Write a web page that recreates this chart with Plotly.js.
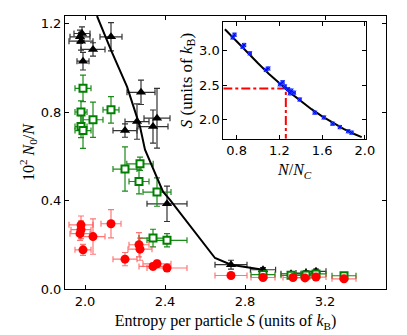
<!DOCTYPE html>
<html><head><meta charset="utf-8">
<script src="https://cdn.plot.ly/plotly-3.0.1.min.js"></script>
<style>html,body{margin:0;padding:0;background:#fff}#plot{width:407px;height:335px}</style>
</head><body><div id="plot"></div>
<script>
// Main plot data: entropy per particle S vs 10^2 N0/N
const blackS   = [1.975, 1.985, 1.98, 2.04, 1.99, 2.13, 2.28, 2.26, 2.36, 2.34, 2.20, 2.41, 2.73, 2.89, 3.03, 3.105, 3.155];
const blackV   = [1.14, 1.155, 1.12, 1.083, 1.03, 1.14, 0.889, 0.757, 0.772, 0.734, 0.716, 0.385, 0.11, 0.087, 0.069, 0.072, 0.08];
const blackSerr= [0.05, 0.04, 0.06, 0.06, 0.03, 0.055, 0.07, 0.06, 0.065, 0.075, 0.06, 0.1, 0.08, 0.063, 0.05, 0.05, 0.05];
const blackVerr= [0.03, 0.03, 0.04, 0.03, 0.04, 0.064, 0.055, 0.08, 0.135, 0.075, 0.03, 0.08, 0.02, 0.01, 0.01, 0.01, 0.01];

const greenS   = [1.99, 1.98, 1.98, 1.99, 2.04, 2.13, 2.20, 2.275, 2.27, 2.36, 2.34, 2.41, 2.89, 3.03, 3.105, 3.155, 3.295];
const greenV   = [0.907, 0.80, 0.734, 0.716, 0.765, 0.81, 0.542, 0.566, 0.486, 0.438, 0.23, 0.22, 0.065, 0.062, 0.063, 0.068, 0.06];
const greenSerr= [0.04, 0.03, 0.03, 0.04, 0.05, 0.04, 0.06, 0.066, 0.05, 0.07, 0.07, 0.1, 0.06, 0.05, 0.05, 0.05, 0.06];
const greenVerr= [0.06, 0.05, 0.05, 0.08, 0.08, 0.06, 0.10, 0.03, 0.056, 0.064, 0.04, 0.03, 0.01, 0.01, 0.01, 0.01, 0.01];

const redS   = [1.98, 1.98, 1.975, 2.04, 1.99, 2.13, 2.27, 2.275, 2.20, 2.34, 2.36, 2.41, 2.73, 2.89, 3.04, 3.10, 3.155, 3.295];
const redV   = [0.29, 0.268, 0.25, 0.237, 0.177, 0.295, 0.2, 0.18, 0.135, 0.102, 0.114, 0.095, 0.061, 0.052, 0.052, 0.05, 0.054, 0.046];
const redSerr= [0.06, 0.05, 0.05, 0.06, 0.04, 0.05, 0.05, 0.06, 0.06, 0.07, 0.07, 0.1, 0.08, 0.06, 0.05, 0.05, 0.05, 0.06];
const redVerr= [0.04, 0.04, 0.03, 0.08, 0.025, 0.064, 0.055, 0.05, 0.03, 0.015, 0.015, 0.015, 0.01, 0.01, 0.01, 0.01, 0.01, 0.01];

// Theory curve in main plot
const curveS = [2.06, 2.13, 2.21, 2.275, 2.30, 2.367, 2.39, 2.425, 2.575, 2.625, 2.65, 2.73, 2.89];
const curveV = [1.234, 1.08, 0.915, 0.734, 0.63, 0.493, 0.44, 0.403, 0.23, 0.17, 0.14, 0.11, 0.087];

// Inset data: N/Nc vs S
const insetN = [0.763, 0.78, 0.856, 0.87, 0.924, 1.074, 1.095, 1.205, 1.23, 1.25, 1.28, 1.31, 1.335, 1.30, 1.39, 1.53, 1.616, 1.697, 1.765, 1.843, 1.875];
const insetS = [3.19, 3.23, 3.055, 3.08, 2.96, 2.72, 2.74, 2.51, 2.54, 2.48, 2.44, 2.42, 2.39, 2.38, 2.29, 2.10, 2.03, 1.94, 1.89, 1.83, 1.81];
const insetNerr = [0.015, 0.015, 0.015, 0.015, 0.015, 0.015, 0.015, 0.015, 0.015, 0.015, 0.015, 0.015, 0.015, 0.015, 0.015, 0.015, 0.015, 0.015, 0.015, 0.015, 0.015];
const insetSerr = [0.025, 0.025, 0.025, 0.025, 0.025, 0.025, 0.025, 0.025, 0.025, 0.025, 0.025, 0.025, 0.025, 0.025, 0.025, 0.025, 0.025, 0.025, 0.025, 0.025, 0.025];
const insetCurveN = [0.69, 0.8, 0.9, 1.0, 1.1, 1.2, 1.26, 1.3, 1.4, 1.5, 1.6, 1.7, 1.8, 1.9, 1.97];
const insetCurveS = [3.31, 3.13, 2.97, 2.815, 2.665, 2.52, 2.445, 2.39, 2.265, 2.15, 2.045, 1.95, 1.865, 1.79, 1.745];
const markN = 1.26, markS = 2.45;

const xRange = [1.9, 3.505], yRange = [0, 1.234];
const ixRange = [0.675, 2.01], iyRange = [1.72, 3.41];

const serif = 'Liberation Serif, DejaVu Serif, serif';
const sans = 'DejaVu Sans, sans-serif';

function errs(arrX, arrY, col) {
  return {
    error_x: {type:'data', array: arrX, visible:true, color: col, thickness: 1.2, width: 3},
    error_y: {type:'data', array: arrY, visible:true, color: col, thickness: 1.2, width: 3}
  };
}

const traces = [
  Object.assign({x: blackS, y: blackV, mode:'markers', type:'scatter',
    marker:{symbol:'triangle-up', size:9, color:'#000'}}, errs(blackSerr, blackVerr, '#333')),
  Object.assign({x: greenS, y: greenV, mode:'markers', type:'scatter',
    marker:{symbol:'square', size:7, color:'#fff', line:{color:'#008000', width:2}}}, errs(greenSerr, greenVerr, '#1a8a1a')),
  Object.assign({x: redS, y: redV, mode:'markers', type:'scatter',
    marker:{symbol:'circle', size:9, color:'#ff0000'}}, errs(redSerr, redVerr, 'rgba(255,60,60,0.7)')),
  {x: curveS, y: curveV, mode:'lines', type:'scatter', line:{color:'#000', width:2}},
  // inset
  {x:[ixRange[0], markN, markN], y:[markS, markS, iyRange[0]], xaxis:'x2', yaxis:'y2', mode:'lines', type:'scatter',
    line:{color:'#ff0000', width:2, dash:'dashdot'}},
  {x: insetCurveN, y: insetCurveS, xaxis:'x2', yaxis:'y2', mode:'lines', type:'scatter', line:{color:'#000', width:2}},
  Object.assign({x: insetN, y: insetS, xaxis:'x2', yaxis:'y2', mode:'markers', type:'scatter',
    marker:{symbol:'x-thin-open', size:4, color:'#0000ff', line:{color:'#0000ff', width:1}}}, {
    error_x:{type:'data', array: insetNerr, visible:true, color:'#1f3fff', thickness:1, width:1.5},
    error_y:{type:'data', array: insetSerr, visible:true, color:'#1f3fff', thickness:1, width:1.5}})
];

const axBase = {showgrid:false, zeroline:false, showline:true, linecolor:'#000', linewidth:1,
  mirror:'allticks', ticks:'inside', ticklen:4, tickcolor:'#000', tickwidth:1,
  tickfont:{family:sans, size:13, color:'#000'}};

const layout = {
  width:407, height:335, showlegend:false,
  margin:{l:65, r:21, t:16, b:45.7, pad:0},
  paper_bgcolor:'#fff', plot_bgcolor:'#fff',
  xaxis: Object.assign({}, axBase, {range:xRange, tickvals:[2.0,2.4,2.8,3.2], ticktext:['2.0','2.4','2.8','3.2'],
    title:{text:'Entropy per particle <i>S</i> (units of <i>k</i><sub>B</sub>)', font:{family:serif, size:16, color:'#000'}, standoff:7}}),
  yaxis: Object.assign({}, axBase, {range:yRange, tickvals:[0,0.4,0.8,1.2], ticktext:['0.0','0.4','0.8','1.2'],
    title:{text:'10<sup>2</sup> <i>N</i><sub>0</sub>/<i>N</i>', font:{family:serif, size:16, color:'#000'}, standoff:2}}),
  xaxis2: Object.assign({}, axBase, {anchor:'y2', domain:[0.4931, 0.9377], range:ixRange,
    tickvals:[0.8,1.2,1.6,2.0], ticktext:['0.8','1.2','1.6','2.0'],
    title:{text:'<i>N</i>/<i>N</i><sub><i>C</i></sub>', font:{family:serif, size:16, color:'#000'}, standoff:6}}),
  yaxis2: Object.assign({}, axBase, {anchor:'x2', domain:[0.55, 0.977], range:iyRange,
    tickvals:[2.0,2.5,3.0], ticktext:['2.0','2.5','3.0'],
    title:{text:'<i>S</i> (units of <i>k</i><sub>B</sub>)', font:{family:serif, size:17, color:'#000'}, standoff:2}})
};

Plotly.newPlot('plot', traces, layout, {staticPlot:true, displayModeBar:false});
</script></body></html>
